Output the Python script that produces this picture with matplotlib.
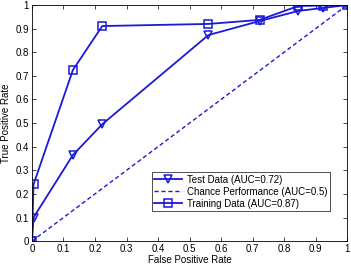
import matplotlib
matplotlib.use("Agg")
import matplotlib.pyplot as plt

plt.rcParams['font.family'] = ['Liberation Sans', 'DejaVu Sans']

test_fpr = [0.0, 0.005, 0.13, 0.223, 0.56, 0.722, 0.845, 0.925, 1.0]
test_tpr = [0.0, 0.10, 0.365, 0.495, 0.873, 0.932, 0.975, 0.988, 1.0]
train_fpr = [0.0, 0.005, 0.13, 0.223, 0.56, 0.722, 0.845, 0.925, 1.0]
train_tpr = [0.0, 0.24, 0.725, 0.911, 0.92, 0.937, 0.996, 0.998, 1.0]
chance = [0.0, 1.0]
labels = ['Test Data (AUC=0.72)', 'Chance Performance (AUC=0.5)', 'Training Data (AUC=0.87)']
ticks = [0, 0.1, 0.2, 0.3, 0.4, 0.5, 0.6, 0.7, 0.8, 0.9, 1]
tick_labels = ['0', '0.1', '0.2', '0.3', '0.4', '0.5', '0.6', '0.7', '0.8', '0.9', '1']

col = '#1a1ad6'
fs = 7
fig = plt.figure(figsize=(3.51, 2.65), dpi=100)
ax = fig.add_axes([0.091, 0.09, 0.898, 0.891])
ax.plot(test_fpr, test_tpr, '-', color=col, marker='v', mfc='none', mec=col, ms=5.5, mew=1.1, lw=1.3, label=labels[0])
ax.plot(chance, chance, '--', color=col, lw=1.0, dashes=(3, 2), label=labels[1])
ax.plot(train_fpr, train_tpr, '-', color=col, marker='s', mfc='none', mec=col, ms=5.5, mew=1.1, lw=1.3, label=labels[2])
ax.set_xlim(0, 1)
ax.set_ylim(0, 1)
ax.set_xticks(ticks)
ax.set_xticklabels(tick_labels)
ax.set_yticks(ticks)
ax.set_yticklabels(tick_labels)
ax.tick_params(direction='in', length=3, width=0.5, labelsize=fs, top=True, right=True, pad=2)
for s in ax.spines.values():
    s.set_linewidth(0.6)
ax.set_xlabel('False Positive Rate', fontsize=fs, labelpad=0.5)
ax.set_ylabel('True Positive Rate', fontsize=fs, labelpad=3)
leg = ax.legend(loc='lower right', bbox_to_anchor=(0.946, 0.127), fontsize=fs, frameon=True,
                fancybox=False, edgecolor='black', borderpad=0.25, labelspacing=0.2,
                handlelength=2.9, handletextpad=0.5, borderaxespad=0)
leg.get_frame().set_linewidth(0.6)
fig.savefig('out.png', dpi=100)
